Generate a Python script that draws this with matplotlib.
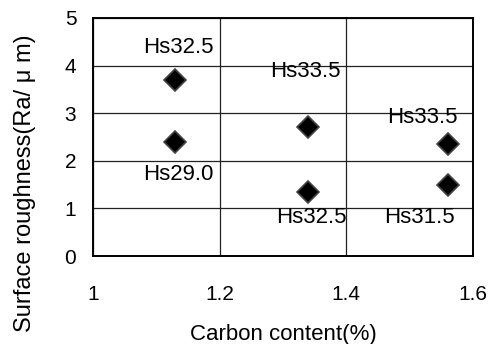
import matplotlib.pyplot as plt

plt.rcParams['font.family'] = ['Liberation Sans', 'DejaVu Sans']

# carbon content (%) and surface roughness Ra (um), with hardness labels
carbon = [1.13, 1.13, 1.34, 1.34, 1.56, 1.56]
roughness = [3.70, 2.40, 2.70, 1.35, 2.35, 1.50]
hardness = ['Hs32.5', 'Hs29.0', 'Hs33.5', 'Hs32.5', 'Hs33.5', 'Hs31.5']
label_x = [1.135, 1.135, 1.335, 1.345, 1.52, 1.515]
label_y = [4.37, 1.72, 3.87, 0.80, 2.90, 0.80]

fig = plt.figure(figsize=(4.96, 3.44), dpi=100)
ax = fig.add_axes([0.1875, 0.2558, 0.7661, 0.6919])

ax.plot(carbon, roughness, linestyle='none', marker='D', markersize=11,
        markerfacecolor='black', markeredgecolor='#444444', markeredgewidth=1.2,
        zorder=3)

for x, y, t in zip(label_x, label_y, hardness):
    ax.text(x, y, t, fontsize=16, ha='center', va='center', zorder=4)

ax.set_xlim(1, 1.6)
ax.set_ylim(0, 5)
ax.set_xticks([1, 1.2, 1.4, 1.6])
ax.set_xticklabels(['1', '1.2', '1.4', '1.6'])
ax.set_yticks([0, 1, 2, 3, 4, 5])
ax.grid(True, color='#222222', linewidth=0.9)
ax.set_axisbelow(True)
ax.tick_params(axis='both', length=0, labelsize=15)
ax.tick_params(axis='x', pad=21)
ax.tick_params(axis='y', pad=12)
for s in ax.spines.values():
    s.set_linewidth(1.4)
    s.set_color('black')

ax.set_xlabel('Carbon content(%)', fontsize=16, labelpad=14)
ax.set_ylabel('Surface roughness(Ra/ \u03bc m)', fontsize=17)
ax.yaxis.set_label_coords(-0.15, 0.307)

fig.savefig('out.png', dpi=100)
